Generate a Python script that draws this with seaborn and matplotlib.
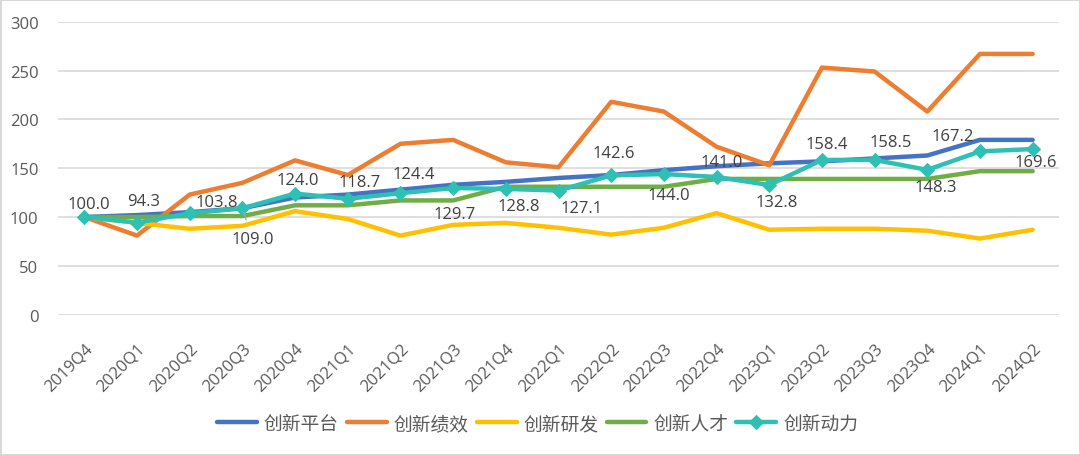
import matplotlib
matplotlib.use("Agg")
import matplotlib.pyplot as plt
import matplotlib.transforms as mtransforms
import pandas as pd
import seaborn as sns

# quarters on the x axis
quarters = ["2019Q4", "2020Q1", "2020Q2", "2020Q3", "2020Q4", "2021Q1", "2021Q2",
            "2021Q3", "2021Q4", "2022Q1", "2022Q2", "2022Q3", "2022Q4", "2023Q1",
            "2023Q2", "2023Q3", "2023Q4", "2024Q1", "2024Q2"]

# index values per series
platform = [100, 102, 105, 109, 120, 123, 128, 133, 136, 140, 143, 148, 152, 155, 157, 160, 163, 179, 179]
performance = [100, 81, 123, 135, 158, 143, 175, 179, 156, 151, 218, 208, 172, 153, 253, 249, 208, 267, 267]
research = [100, 94, 88, 91, 106, 98, 81, 92, 94, 89, 82, 89, 104, 87, 88, 88, 86, 78, 87]
talent = [100, 100, 101, 101, 112, 112, 117, 117, 131, 131, 131, 131, 139, 139, 139, 139, 139, 147, 147]
momentum = [100.0, 94.3, 103.8, 109.0, 124.0, 118.7, 124.4, 129.7, 128.8, 127.1, 142.6,
            144.0, 141.0, 132.8, 158.4, 158.5, 148.3, 167.2, 169.6]

series_names = ["创新平台", "创新绩效", "创新研发", "创新人才", "创新动力"]
series_values = [platform, performance, research, talent, momentum]
colors = ["#4472C4", "#ED7D31", "#FFC000", "#70AD47", "#2EC0B3"]

rows = []
for name, vals in zip(series_names, series_values):
    for i, v in enumerate(vals):
        rows.append({"idx": i, "quarter": quarters[i], "series": name, "value": v})
df = pd.DataFrame(rows)

sns.set_theme(style="white")
plt.rcParams["font.family"] = ["Open Sans", "Noto Sans CJK SC", "DejaVu Sans"]

fig = plt.figure(figsize=(10.8, 4.56), dpi=100)
fig.patch.set_edgecolor("#D9D9D9")
fig.patch.set_linewidth(2)
ax = fig.add_axes([58 / 1080, 1 - 315.7 / 456, (1059 - 58) / 1080, (315.7 - 22.7) / 456])

for name, col in zip(series_names, colors):
    sub = df[df["series"] == name]
    if name == "创新动力":
        sns.lineplot(data=sub, x="idx", y="value", color=col, lw=3.2, marker="D",
                     markersize=7, markeredgecolor=col, label=name, ax=ax, zorder=5)
    else:
        sns.lineplot(data=sub, x="idx", y="value", color=col, lw=3.2,
                     label=name, ax=ax, zorder=3)

# data labels for 创新动力 (offsets in pixels, right/down)
label_offsets = [(5, -13), (7, -22), (27, -11), (10, 31), (3, -14), (12, -17), (13, -19),
                 (2, 26), (13, 17), (23, 17), (3, -22), (5, 21), (5, -15), (7, 17),
                 (5, -16), (16, -18), (8, 17), (-27, -15), (3, 13)]
for i, (v, (dx, dy)) in enumerate(zip(momentum, label_offsets)):
    kw = {}
    if i in (3, 7):
        kw["arrowprops"] = dict(arrowstyle="-", color="#A6A6A6", lw=0.9, shrinkA=6, shrinkB=3)
    ax.annotate(f"{v:.1f}", xy=(i, v), xytext=(dx, -dy), textcoords="offset pixels",
                ha="center", va="center", fontsize=12, color="#404040", zorder=6, **kw)

ax.set_xlim(-0.5, len(quarters) - 0.5)
ax.set_ylim(0, 300)
ax.set_yticks(range(0, 301, 50))
ax.set_xticks(range(len(quarters)))
ax.set_xticklabels(quarters)
ax.set_xlabel("")
ax.set_ylabel("")
ax.grid(axis="y", color="#D9D9D9", lw=1.2)
ax.grid(axis="x", visible=False)
for s in ax.spines.values():
    s.set_visible(False)
ax.tick_params(axis="y", length=0, pad=14, labelsize=12, labelcolor="#595959")
ax.tick_params(axis="x", length=0, pad=0, labelsize=12, labelcolor="#595959")

offset = mtransforms.ScaledTranslation(0.0, -0.25, fig.dpi_scale_trans)
for lab in ax.get_xticklabels():
    lab.set_rotation(45)
    lab.set_ha("right")
    lab.set_va("top")
    lab.set_rotation_mode("anchor")
    lab.set_transform(lab.get_transform() + offset)

ax.legend(loc="center", bbox_to_anchor=(537.5 / 1080, 1 - 425 / 456),
          bbox_transform=fig.transFigure, ncol=5, frameon=False, fontsize=13.5,
          handlelength=2.13, handletextpad=0.37, columnspacing=0.43,
          labelcolor="#595959")

fig.savefig("out.png", dpi=100)
